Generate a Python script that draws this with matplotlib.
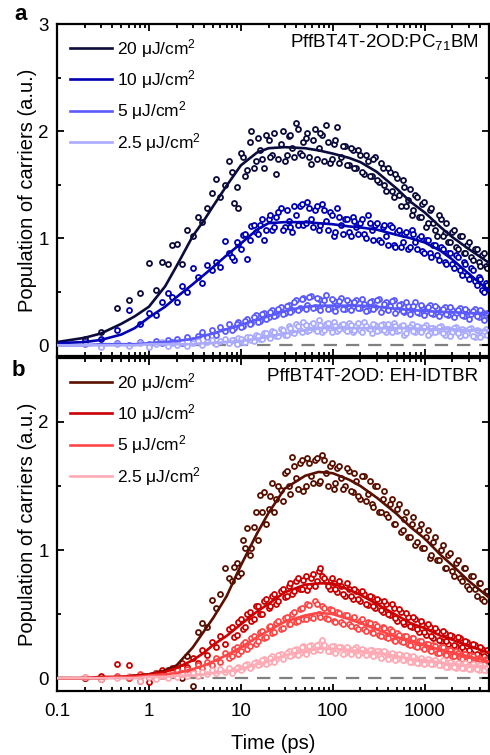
import matplotlib
matplotlib.use("Agg")
import matplotlib.pyplot as plt
from matplotlib.ticker import MultipleLocator, LogLocator, NullFormatter, FixedLocator

plt.rcParams["font.family"] = ["Liberation Sans", "DejaVu Sans"]
plt.rcParams["mathtext.fontset"] = "custom"
plt.rcParams["mathtext.rm"] = "Liberation Sans"
plt.rcParams["mathtext.it"] = "Liberation Sans:italic"

# measured delay times (ps), first scan
t_meas = [0.2, 0.3, 0.45, 0.6, 0.8, 1.0, 1.2, 1.4, 1.6, 1.8, 2.0, 2.3, 2.6, 3.0, 3.4,
          3.8, 4.3, 4.8, 5.4, 6.0, 6.7, 7.5, 8.4, 9.4, 10.5, 11.7, 13, 14.5, 16, 18,
          20, 22, 24, 27, 30, 33, 36, 40, 44, 48, 53, 58, 64, 70, 77, 85, 93, 102,
          112, 123, 135, 150, 165, 180, 200, 220, 240, 265, 290, 320, 350, 380, 420,
          460, 500, 550, 600, 660, 720, 790, 860, 940, 1030, 1130, 1240, 1360, 1500,
          1650, 1800, 2000, 2200, 2400, 2650, 2900, 3200, 3500, 3850, 4200, 4600]
# second scan (long delays only)
t_meas2 = [8, 9, 10, 11, 12.5, 14, 15.5, 17, 19, 21, 23, 25.5, 28.5, 31.5, 34.5, 38, 42,
           46, 50.5, 55.5, 61, 67, 73.5, 81, 89, 97, 107, 117, 129, 142, 157, 172, 190,
           210, 230, 252, 277, 305, 335, 365, 400, 440, 480, 525, 575, 630, 690, 755,
           825, 900, 985, 1080, 1185, 1300, 1430, 1575, 1725, 1900, 2100, 2300, 2525,
           2775, 3050, 3350, 3675, 4025, 4400, 4800]

# panel a: PffBT4T-2OD:PC71BM
a_20 = [0.06, 0.12, 0.35, 0.42, 0.49, 0.77, 0.52, 0.78, 0.76, 0.94, 0.95, 0.76, 1.08, 1.02, 1.20,
        1.15, 1.28, 1.42, 1.55, 1.38, 1.50, 1.72, 1.33, 1.28, 1.76, 1.64, 2.00, 1.72, 1.82, 1.66,
        1.92, 1.78, 1.60, 1.88, 1.72, 1.95, 1.84, 2.08, 1.80, 1.90, 1.98, 1.69, 2.02, 1.84, 1.96,
        2.06, 1.70, 1.88, 2.04, 1.76, 1.86, 1.68, 1.82, 1.66, 1.78, 1.60, 1.72, 1.58, 1.76, 1.52,
        1.66, 1.44, 1.62, 1.38, 1.56, 1.30, 1.48, 1.36, 1.22, 1.40, 1.20, 1.32, 1.10, 1.26, 1.14,
        1.02, 1.18, 1.05, 0.96, 1.06, 0.92, 1.02, 0.86, 0.94, 0.82, 0.90, 0.78, 0.84, 0.74]
a_20_2 = [1.62, 1.48, 1.80, 1.58, 1.90, 1.66, 1.94, 1.74, 1.96, 1.76, 1.98, 1.74, 2.00, 1.78, 1.96,
          1.76, 2.02, 1.78, 1.94, 1.76, 1.92, 1.74, 1.98, 1.72, 1.90, 1.74, 1.92, 1.70, 1.86, 1.68,
          1.84, 1.66, 1.82, 1.62, 1.78, 1.58, 1.74, 1.54, 1.70, 1.50, 1.66, 1.44, 1.60, 1.40, 1.54,
          1.30, 1.46, 1.26, 1.38, 1.20, 1.34, 1.14, 1.28, 1.08, 1.22, 1.02, 1.14, 0.96, 1.08, 0.90,
          1.02, 0.86, 0.96, 0.80, 0.90, 0.74, 0.86, 0.72]
a_10 = [0.03, 0.06, 0.14, 0.33, 0.20, 0.30, 0.28, 0.40, 0.49, 0.45, 0.40, 0.55, 0.50, 0.72, 0.64,
        0.58, 0.75, 0.70, 0.78, 0.73, 0.97, 0.86, 0.80, 0.95, 1.03, 0.81, 1.11, 1.06, 1.12, 0.98,
        1.18, 1.08, 1.20, 1.28, 1.10, 1.16, 1.06, 1.22, 1.30, 1.12, 1.34, 1.18, 1.26, 1.08, 1.32,
        1.16, 1.24, 1.02, 1.28, 1.12, 1.18, 1.06, 1.20, 1.10, 1.14, 1.04, 1.22, 1.08, 1.12, 0.98,
        1.10, 1.02, 1.12, 0.94, 1.06, 0.92, 1.04, 0.90, 1.08, 0.96, 1.00, 0.88, 0.98, 0.86, 0.94,
        0.84, 0.92, 0.78, 0.86, 0.76, 0.84, 0.70, 0.78, 0.66, 0.72, 0.60, 0.64, 0.52, 0.58]
a_10_2 = [0.82, 0.96, 0.90, 1.04, 0.98, 1.12, 1.04, 1.18, 1.08, 1.22, 1.10, 1.24, 1.08, 1.26, 1.10,
          1.30, 1.12, 1.32, 1.14, 1.28, 1.10, 1.30, 1.12, 1.26, 1.08, 1.22, 1.06, 1.20, 1.04, 1.18,
          1.02, 1.16, 1.04, 1.18, 1.00, 1.14, 0.98, 1.14, 0.96, 1.12, 0.94, 1.10, 0.92, 1.08, 0.96,
          1.06, 0.92, 1.04, 0.90, 1.02, 0.86, 0.98, 0.82, 0.94, 0.80, 0.90, 0.76, 0.86, 0.72, 0.82,
          0.66, 0.76, 0.62, 0.70, 0.56, 0.62, 0.50, 0.56]
a_5 = [0.01, -0.01, 0.02, 0.00, 0.03, 0.01, 0.04, 0.02, 0.05, 0.03, 0.06, 0.02, 0.08, 0.05, 0.09,
       0.12, 0.08, 0.14, 0.10, 0.17, 0.13, 0.20, 0.16, 0.22, 0.18, 0.25, 0.21, 0.28, 0.23, 0.30,
       0.26, 0.33, 0.28, 0.36, 0.30, 0.38, 0.33, 0.42, 0.35, 0.44, 0.38, 0.46, 0.36, 0.43, 0.39,
       0.47, 0.35, 0.41, 0.38, 0.44, 0.34, 0.40, 0.37, 0.42, 0.35, 0.39, 0.33, 0.41, 0.36, 0.43,
       0.34, 0.40, 0.37, 0.42, 0.33, 0.39, 0.31, 0.37, 0.34, 0.40, 0.30, 0.36, 0.32, 0.38, 0.29,
       0.35, 0.31, 0.36, 0.28, 0.33, 0.30, 0.35, 0.27, 0.32, 0.29, 0.34, 0.26, 0.31, 0.28]
a_5_2 = [0.14, 0.20, 0.17, 0.23, 0.20, 0.26, 0.22, 0.29, 0.25, 0.31, 0.27, 0.34, 0.29, 0.37, 0.31,
         0.40, 0.33, 0.43, 0.34, 0.45, 0.35, 0.44, 0.33, 0.42, 0.34, 0.43, 0.32, 0.41, 0.34, 0.42,
         0.33, 0.40, 0.35, 0.43, 0.32, 0.40, 0.34, 0.42, 0.31, 0.39, 0.33, 0.41, 0.30, 0.38, 0.32,
         0.40, 0.29, 0.37, 0.31, 0.38, 0.28, 0.36, 0.30, 0.37, 0.27, 0.34, 0.29, 0.36, 0.26, 0.33,
         0.28, 0.34, 0.25, 0.32, 0.27, 0.33, 0.24, 0.30]
a_2p5 = [0.02, -0.02, 0.01, -0.01, 0.02, -0.02, 0.01, 0.03, -0.01, 0.02, 0.00, 0.03, -0.01, 0.02, 0.04,
         0.00, 0.03, 0.05, 0.01, 0.04, 0.06, 0.02, 0.05, 0.07, 0.03, 0.08, 0.05, 0.10, 0.06, 0.11,
         0.08, 0.13, 0.09, 0.15, 0.10, 0.18, 0.12, 0.20, 0.14, 0.22, 0.13, 0.19, 0.15, 0.24, 0.12,
         0.20, 0.16, 0.22, 0.13, 0.19, 0.15, 0.21, 0.12, 0.18, 0.14, 0.22, 0.16, 0.11, 0.19, 0.14,
         0.20, 0.12, 0.17, 0.21, 0.13, 0.18, 0.10, 0.16, 0.20, 0.12, 0.17, 0.14, 0.19, 0.11, 0.16,
         0.13, 0.18, 0.10, 0.15, 0.12, 0.17, 0.09, 0.14, 0.11, 0.16, 0.08, 0.13, 0.10, 0.15]
a_2p5_2 = [0.05, 0.01, 0.06, 0.03, 0.08, 0.04, 0.09, 0.06, 0.11, 0.07, 0.12, 0.09, 0.14, 0.10, 0.16,
           0.11, 0.18, 0.12, 0.19, 0.14, 0.21, 0.13, 0.19, 0.14, 0.21, 0.12, 0.18, 0.15, 0.20, 0.13,
           0.19, 0.14, 0.21, 0.12, 0.18, 0.15, 0.20, 0.13, 0.19, 0.14, 0.20, 0.12, 0.18, 0.14, 0.19,
           0.11, 0.17, 0.13, 0.18, 0.12, 0.17, 0.10, 0.16, 0.12, 0.17, 0.11, 0.15, 0.09, 0.16, 0.11,
           0.15, 0.10, 0.15, 0.09, 0.14, 0.08, 0.13, 0.10]

# panel b: PffBT4T-2OD: EH-IDTBR
b_20 = [0.00, -0.01, 0.01, 0.00, 0.02, 0.01, 0.04, 0.02, 0.06, 0.04, 0.08, 0.00, 0.17, -0.06, 0.36,
        0.43, 0.40, 0.61, 0.55, 0.66, 0.86, 0.78, 0.87, 0.80, 1.08, 1.17, 1.02, 1.30, 1.43, 1.45,
        1.32, 1.52, 1.40, 1.47, 1.60, 1.50, 1.73, 1.56, 1.68, 1.46, 1.72, 1.58, 1.70, 1.52, 1.74,
        1.60, 1.66, 1.48, 1.64, 1.56, 1.50, 1.62, 1.45, 1.54, 1.40, 1.58, 1.44, 1.36, 1.50, 1.30,
        1.40, 1.28, 1.36, 1.20, 1.32, 1.14, 1.24, 1.10, 1.20, 1.04, 1.16, 1.02, 1.10, 0.94, 1.06,
        0.92, 1.00, 0.86, 0.96, 0.84, 0.90, 0.78, 0.86, 0.72, 0.80, 0.70, 0.74, 0.62, 0.68]
b_20_2 = [0.76, 0.90, 0.82, 1.02, 0.96, 1.18, 1.08, 1.30, 1.20, 1.42, 1.30, 1.50, 1.38, 1.62, 1.44,
          1.66, 1.48, 1.70, 1.50, 1.68, 1.52, 1.72, 1.54, 1.70, 1.50, 1.68, 1.52, 1.66, 1.48, 1.64,
          1.46, 1.60, 1.42, 1.58, 1.38, 1.54, 1.34, 1.50, 1.30, 1.46, 1.26, 1.40, 1.20, 1.36, 1.16,
          1.30, 1.10, 1.26, 1.06, 1.20, 1.02, 1.16, 0.96, 1.10, 0.92, 1.04, 0.86, 0.98, 0.80, 0.92,
          0.76, 0.86, 0.70, 0.80, 0.64, 0.74, 0.60, 0.68]
b_10 = [0.00, 0.02, 0.11, 0.10, -0.02, -0.03, 0.04, 0.06, 0.02, 0.08, 0.05, 0.12, 0.09, 0.16, 0.12,
        0.22, 0.18, 0.28, 0.24, 0.33, 0.27, 0.38, 0.32, 0.44, 0.38, 0.50, 0.45, 0.56, 0.50, 0.60,
        0.55, 0.64, 0.58, 0.68, 0.63, 0.72, 0.66, 0.76, 0.70, 0.77, 0.69, 0.78, 0.72, 0.84, 0.80,
        0.76, 0.70, 0.74, 0.67, 0.72, 0.64, 0.70, 0.62, 0.68, 0.60, 0.66, 0.57, 0.63, 0.55, 0.60,
        0.52, 0.58, 0.49, 0.55, 0.45, 0.52, 0.42, 0.48, 0.40, 0.46, 0.36, 0.42, 0.34, 0.40, 0.31,
        0.37, 0.29, 0.35, 0.27, 0.33, 0.25, 0.31, 0.22, 0.28, 0.20, 0.26, 0.18, 0.23, 0.16]
b_10_2 = [0.40, 0.34, 0.46, 0.40, 0.52, 0.46, 0.56, 0.50, 0.62, 0.56, 0.66, 0.60, 0.70, 0.64, 0.74,
          0.68, 0.78, 0.70, 0.80, 0.72, 0.81, 0.76, 0.86, 0.78, 0.72, 0.78, 0.70, 0.76, 0.66, 0.74,
          0.64, 0.70, 0.62, 0.68, 0.58, 0.64, 0.56, 0.62, 0.53, 0.60, 0.50, 0.58, 0.47, 0.54, 0.44,
          0.51, 0.41, 0.48, 0.38, 0.45, 0.36, 0.42, 0.33, 0.39, 0.30, 0.37, 0.29, 0.34, 0.26, 0.32,
          0.24, 0.29, 0.22, 0.27, 0.19, 0.24, 0.17, 0.22]
b_5 = [0.01, -0.01, 0.02, 0.00, 0.03, 0.01, 0.04, 0.02, 0.05, 0.03, 0.06, 0.04, 0.07, 0.05, 0.10,
       0.08, 0.13, 0.10, 0.16, 0.13, 0.20, 0.16, 0.23, 0.19, 0.27, 0.23, 0.31, 0.27, 0.36, 0.31,
       0.40, 0.35, 0.43, 0.38, 0.47, 0.42, 0.50, 0.44, 0.54, 0.46, 0.58, 0.48, 0.60, 0.50, 0.56,
       0.47, 0.54, 0.45, 0.52, 0.44, 0.49, 0.42, 0.47, 0.40, 0.45, 0.38, 0.44, 0.36, 0.42, 0.34,
       0.40, 0.32, 0.38, 0.30, 0.35, 0.29, 0.33, 0.27, 0.31, 0.25, 0.29, 0.24, 0.27, 0.22, 0.26,
       0.20, 0.24, 0.19, 0.22, 0.17, 0.21, 0.16, 0.19, 0.14, 0.18, 0.13, 0.16, 0.11, 0.15]
b_5_2 = [0.17, 0.24, 0.21, 0.28, 0.25, 0.33, 0.29, 0.37, 0.32, 0.41, 0.36, 0.45, 0.39, 0.48, 0.42,
         0.52, 0.45, 0.55, 0.46, 0.57, 0.47, 0.58, 0.48, 0.55, 0.46, 0.53, 0.44, 0.51, 0.42, 0.49,
         0.41, 0.48, 0.38, 0.46, 0.37, 0.43, 0.35, 0.41, 0.33, 0.39, 0.31, 0.37, 0.29, 0.34, 0.28,
         0.33, 0.26, 0.31, 0.24, 0.29, 0.23, 0.27, 0.21, 0.25, 0.20, 0.24, 0.18, 0.22, 0.17, 0.20,
         0.15, 0.19, 0.14, 0.17, 0.12, 0.15, 0.11, 0.14]
b_2p5 = [0.01, -0.01, 0.00, 0.02, -0.02, 0.01, -0.01, 0.02, 0.00, 0.03, 0.01, 0.03, 0.02, 0.04, 0.02,
         0.05, 0.03, 0.06, 0.04, 0.07, 0.05, 0.08, 0.06, 0.09, 0.08, 0.11, 0.09, 0.13, 0.11, 0.15,
         0.13, 0.17, 0.15, 0.19, 0.17, 0.21, 0.18, 0.23, 0.20, 0.25, 0.21, 0.26, 0.22, 0.27, 0.30,
         0.24, 0.21, 0.25, 0.22, 0.24, 0.20, 0.23, 0.21, 0.24, 0.20, 0.22, 0.19, 0.22, 0.18, 0.21,
         0.17, 0.20, 0.16, 0.19, 0.15, 0.18, 0.14, 0.17, 0.13, 0.16, 0.12, 0.15, 0.12, 0.14, 0.11,
         0.13, 0.10, 0.13, 0.09, 0.12, 0.08, 0.11, 0.08, 0.10, 0.07, 0.10, 0.06, 0.09, 0.06]
b_2p5_2 = [0.04, 0.08, 0.06, 0.10, 0.08, 0.12, 0.10, 0.14, 0.11, 0.16, 0.13, 0.18, 0.15, 0.20, 0.17,
           0.22, 0.18, 0.24, 0.19, 0.25, 0.21, 0.26, 0.22, 0.26, 0.21, 0.25, 0.20, 0.24, 0.19, 0.24,
           0.19, 0.23, 0.18, 0.23, 0.18, 0.22, 0.17, 0.21, 0.16, 0.21, 0.15, 0.20, 0.14, 0.19, 0.14,
           0.18, 0.13, 0.17, 0.12, 0.16, 0.11, 0.15, 0.11, 0.14, 0.10, 0.14, 0.09, 0.13, 0.09, 0.12,
           0.08, 0.12, 0.07, 0.11, 0.07, 0.10, 0.06, 0.09]

# fitted curves
t_fit = [0.1, 0.2, 0.3, 0.5, 0.7, 1, 1.5, 2, 3, 4, 5, 7, 10, 15, 20, 30, 50, 70, 100,
         150, 200, 300, 500, 700, 1000, 1500, 2000, 3000, 5000]
fa_20 = [0.03, 0.07, 0.11, 0.20, 0.27, 0.36, 0.55, 0.74, 1.02, 1.17, 1.30, 1.49, 1.68, 1.80, 1.84,
         1.85, 1.84, 1.82, 1.79, 1.75, 1.71, 1.62, 1.46, 1.34, 1.24, 1.10, 1.01, 0.90, 0.77]
fa_10 = [0.02, 0.03, 0.05, 0.10, 0.16, 0.26, 0.36, 0.45, 0.57, 0.66, 0.73, 0.84, 0.95, 1.08, 1.14,
         1.15, 1.15, 1.14, 1.13, 1.11, 1.10, 1.08, 1.03, 1.00, 0.96, 0.88, 0.80, 0.67, 0.51]
fa_5 = [0.00, 0.00, 0.01, 0.01, 0.01, 0.02, 0.03, 0.04, 0.06, 0.09, 0.11, 0.15, 0.19, 0.24, 0.27,
        0.32, 0.36, 0.37, 0.37, 0.37, 0.37, 0.36, 0.34, 0.33, 0.32, 0.31, 0.31, 0.30, 0.30]
fa_2p5 = [0.00, 0.00, 0.00, 0.00, 0.00, 0.01, 0.01, 0.01, 0.01, 0.02, 0.02, 0.03, 0.04, 0.06, 0.08,
          0.11, 0.14, 0.16, 0.16, 0.16, 0.16, 0.16, 0.16, 0.16, 0.15, 0.15, 0.15, 0.14, 0.14]
fb_20 = [0.00, 0.00, 0.00, 0.01, 0.02, 0.03, 0.06, 0.10, 0.24, 0.37, 0.47, 0.64, 0.88, 1.13, 1.29,
         1.48, 1.58, 1.61, 1.60, 1.55, 1.50, 1.41, 1.28, 1.18, 1.09, 0.96, 0.88, 0.76, 0.63]
fb_10 = [0.00, 0.00, 0.01, 0.01, 0.02, 0.03, 0.05, 0.08, 0.14, 0.20, 0.26, 0.33, 0.42, 0.52, 0.58,
         0.67, 0.73, 0.74, 0.74, 0.69, 0.65, 0.58, 0.49, 0.43, 0.39, 0.33, 0.30, 0.25, 0.20]
fb_5 = [0.00, 0.00, 0.00, 0.01, 0.01, 0.02, 0.03, 0.04, 0.07, 0.10, 0.13, 0.18, 0.24, 0.32, 0.37,
        0.44, 0.49, 0.51, 0.50, 0.46, 0.43, 0.38, 0.32, 0.29, 0.26, 0.22, 0.20, 0.17, 0.13]
fb_2p5 = [0.00, 0.00, 0.00, 0.00, 0.00, 0.01, 0.01, 0.02, 0.02, 0.03, 0.04, 0.05, 0.07, 0.11, 0.13,
          0.18, 0.21, 0.23, 0.23, 0.22, 0.21, 0.20, 0.17, 0.15, 0.14, 0.12, 0.11, 0.10, 0.09]

labels = ["20 \u03bcJ/cm$^2$", "10 \u03bcJ/cm$^2$", "5 \u03bcJ/cm$^2$", "2.5 \u03bcJ/cm$^2$"]
colors_a = ["#0b0b3d", "#0000b4", "#5a5aff", "#aaaaff"]
colors_b = ["#5a1000", "#cc0000", "#ff4646", "#ffaab4"]

fig = plt.figure(figsize=(4.9, 7.55), dpi=100)
ax1 = fig.add_axes([0.1163, 0.5285, 0.8816, 0.4397])
ax2 = fig.add_axes([0.1163, 0.0848, 0.8816, 0.4411])


def draw_panel(ax, scans1, scans2, fits, colors, ymax, yticks, title):
    for ys, ys2, c in zip(scans1, scans2, colors):
        ax.plot(t_meas, ys, "o", ms=3.6, mfc="white", mec=c, mew=1.3, ls="none", zorder=2)
        ax.plot(t_meas2, ys2, "o", ms=3.6, mfc="white", mec=c, mew=1.3, ls="none", zorder=2)
    ax.axhline(0, color="#808080", lw=1.6, ls=(0, (6, 4)), zorder=1)
    for ys, c, lab in zip(fits, colors, labels):
        ax.plot(t_fit, ys, color=c, lw=1.9, label=lab, zorder=3)
    ax.set_xscale("log")
    ax.set_xlim(0.1, 5000)
    ax.set_ylim(-0.1, ymax)
    ax.yaxis.set_major_locator(FixedLocator(yticks))
    ax.yaxis.set_minor_locator(MultipleLocator(0.5))
    ax.xaxis.set_major_locator(LogLocator(base=10))
    ax.xaxis.set_minor_locator(LogLocator(base=10, subs=range(2, 10)))
    ax.xaxis.set_minor_formatter(NullFormatter())
    ax.tick_params(which="both", direction="in", top=True, right=True, width=1.3,
                   labelsize=13.5, pad=6)
    ax.tick_params(axis="x", which="both", pad=9)
    ax.tick_params(which="major", length=5)
    ax.tick_params(which="minor", length=3)
    for s in ax.spines.values():
        s.set_linewidth(1.6)
    ax.set_ylabel("Population of carriers (a.u.)", fontsize=14.5, labelpad=1)
    ax.legend(loc="upper left", bbox_to_anchor=(0.0, 1.0), frameon=False, fontsize=12.5,
              handlelength=2.4, handletextpad=0.3, labelspacing=0.48, borderaxespad=0.35)
    ax.text(0.975, 0.945, title, transform=ax.transAxes, ha="right", va="center",
            fontsize=13.5)


draw_panel(ax1, [a_20, a_10, a_5, a_2p5], [a_20_2, a_10_2, a_5_2, a_2p5_2],
           [fa_20, fa_10, fa_5, fa_2p5], colors_a, 3.0, [0, 1, 2, 3],
           "PffBT4T-2OD:PC$_{71}$BM")
draw_panel(ax2, [b_20, b_10, b_5, b_2p5], [b_20_2, b_10_2, b_5_2, b_2p5_2],
           [fb_20, fb_10, fb_5, fb_2p5], colors_b, 2.5, [0, 1, 2],
           "PffBT4T-2OD: EH-IDTBR")

ax1.tick_params(labelbottom=False)
ax2.set_xticks([0.1, 1, 10, 100, 1000])
ax2.set_xticklabels(["0.1", "1", "10", "100", "1000"])
ax2.set_xlabel("Time (ps)", fontsize=14.5, labelpad=10)

fig.text(0.042, 0.981, "a", fontsize=16, fontweight="bold", ha="center", va="center")
fig.text(0.038, 0.509, "b", fontsize=16, fontweight="bold", ha="center", va="center")

fig.savefig("out.png", dpi=100)
